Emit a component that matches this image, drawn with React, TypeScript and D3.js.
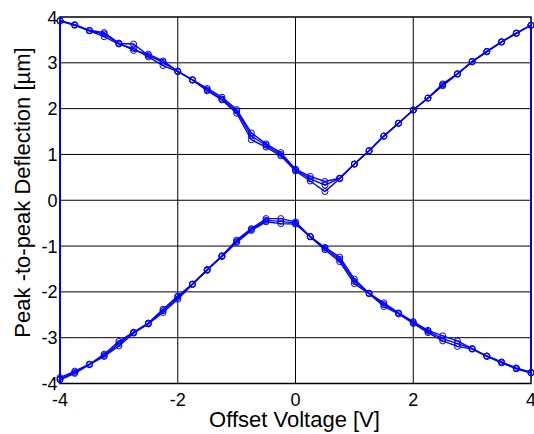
import React from "react";
import * as d3 from "d3";

// Offset voltage sweep (V), 0.25 V steps
const voltages = d3.range(-4, 4.0001, 0.25);

// Peak-to-peak deflection (µm), three repeated measurements
const upperRun1 = [3.92, 3.83, 3.71, 3.66, 3.43, 3.27, 3.19, 3.04, 2.82, 2.63, 2.44, 2.25, 1.98, 1.47, 1.23, 1.04, 0.68, 0.52, 0.41, 0.48, 0.79, 1.08, 1.40, 1.68, 1.97, 2.23, 2.54, 2.76, 3.03, 3.25, 3.46, 3.65, 3.82];
const upperRun2 = [3.92, 3.83, 3.70, 3.63, 3.42, 3.41, 3.16, 3.01, 2.81, 2.63, 2.41, 2.21, 1.95, 1.40, 1.20, 1.00, 0.66, 0.47, 0.33, 0.48, 0.79, 1.08, 1.40, 1.68, 1.97, 2.23, 2.52, 2.76, 3.03, 3.25, 3.46, 3.65, 3.82];
const upperRun3 = [3.91, 3.82, 3.70, 3.57, 3.41, 3.31, 3.13, 2.94, 2.81, 2.62, 2.39, 2.19, 1.90, 1.32, 1.16, 0.97, 0.64, 0.42, 0.19, 0.47, 0.79, 1.08, 1.40, 1.68, 1.97, 2.23, 2.50, 2.75, 3.02, 3.24, 3.45, 3.64, 3.82];
const lowerRun1 = [-3.87, -3.73, -3.58, -3.36, -3.08, -2.88, -2.68, -2.38, -2.09, -1.83, -1.51, -1.21, -0.87, -0.62, -0.40, -0.40, -0.47, -0.79, -1.03, -1.24, -1.72, -2.03, -2.24, -2.46, -2.65, -2.84, -2.96, -3.07, -3.24, -3.40, -3.53, -3.66, -3.76];
const lowerRun2 = [-3.90, -3.76, -3.58, -3.39, -3.13, -2.89, -2.69, -2.41, -2.12, -1.83, -1.52, -1.22, -0.90, -0.64, -0.44, -0.46, -0.50, -0.79, -1.05, -1.29, -1.77, -2.03, -2.28, -2.47, -2.67, -2.86, -3.02, -3.13, -3.24, -3.40, -3.54, -3.67, -3.76];
const lowerRun3 = [-3.92, -3.78, -3.59, -3.41, -3.18, -2.90, -2.70, -2.45, -2.16, -1.84, -1.53, -1.23, -0.92, -0.66, -0.47, -0.51, -0.52, -0.80, -1.08, -1.34, -1.82, -2.04, -2.32, -2.48, -2.69, -2.89, -3.07, -3.19, -3.25, -3.41, -3.55, -3.68, -3.77];

const runs = [
  { upper: upperRun1, lower: lowerRun1 },
  { upper: upperRun2, lower: lowerRun2 },
  { upper: upperRun3, lower: lowerRun3 },
];

const xTicks = [-4, -2, 0, 2, 4];
const yTicks = [-4, -3, -2, -1, 0, 1, 2, 3, 4];

const W = 534;
const H = 434;
const left = 60;
const right = 531;
const top = 17;
const bottom = 383.5;
const BLUE = "#0000ff";
const FONT = "'Liberation Sans', Arial, sans-serif";

export default function App() {
  const x = d3.scaleLinear().domain([-4, 4]).range([left, right]);
  const y = d3.scaleLinear().domain([-4, 4]).range([bottom, top]);
  const line = d3
    .line<[number, number]>()
    .x((d) => x(d[0]))
    .y((d) => y(d[1]));

  return (
    <svg
      width={W}
      height={H}
      style={{ position: "absolute", left: 0, top: 0, background: "#fff" }}
      fontFamily={FONT}
    >
      <rect x={left} y={top} width={right - left} height={bottom - top} fill="#fff" />
      {/* grid */}
      {xTicks
        .filter((t) => t > -4 && t < 4)
        .map((t) => (
          <line key={"gx" + t} x1={x(t)} x2={x(t)} y1={top} y2={bottom} stroke="#000" strokeWidth={1} />
        ))}
      {yTicks
        .filter((t) => t > -4 && t < 4)
        .map((t) => (
          <line key={"gy" + t} x1={left} x2={right} y1={y(t)} y2={y(t)} stroke="#000" strokeWidth={1} />
        ))}
      {/* box */}
      <rect x={left} y={top} width={right - left} height={bottom - top} fill="none" stroke="#000" strokeWidth={1.5} />
      {/* data: each run as a closed loop (upper branch forward, lower branch back) */}
      {runs.map((r, i) => {
        const pts: [number, number][] = [
          ...voltages.map((v, k) => [v, r.upper[k]] as [number, number]),
          ...voltages
            .map((v, k) => [v, r.lower[k]] as [number, number])
            .reverse(),
        ];
        return (
          <g key={"run" + i}>
            <path d={line(pts) + "Z"} fill="none" stroke={BLUE} strokeWidth={1.4} />
            {pts.map((p, k) => (
              <circle key={k} cx={x(p[0])} cy={y(p[1])} r={3} fill="none" stroke={BLUE} strokeWidth={1} />
            ))}
          </g>
        );
      })}
      {/* tick labels */}
      {xTicks.map((t) => (
        <text key={"xt" + t} x={x(t)} y={405.5} fontSize={18} textAnchor="middle" fill="#000">
          {t}
        </text>
      ))}
      {yTicks.map((t) => (
        <text key={"yt" + t} x={left - 2.5} y={y(t) + 6.5} fontSize={18} textAnchor="end" fill="#000">
          {t}
        </text>
      ))}
      <text x={294.5} y={426.5} fontSize={22} textAnchor="middle" fill="#000">
        Offset Voltage [V]
      </text>
      <text
        transform={`translate(29.5, 192.5) rotate(-90)`}
        fontSize={22}
        textAnchor="middle"
        fill="#000"
      >
        Peak -to-peak Deflection [µm]
      </text>
    </svg>
  );
}
